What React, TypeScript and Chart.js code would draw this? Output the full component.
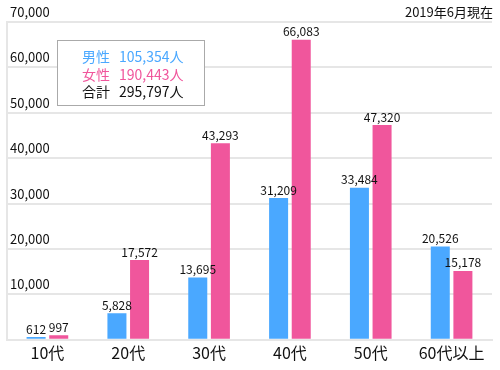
import React, { useEffect, useRef } from "react";
import { Chart, registerables } from "chart.js";

Chart.register(...registerables);

const categories = ["10代", "20代", "30代", "40代", "50代", "60代以上"];
const maleValues = [612, 5828, 13695, 31209, 33484, 20526];
const femaleValues = [997, 17572, 43293, 66083, 47320, 15178];
const yTicks = [0, 10000, 20000, 30000, 40000, 50000, 60000, 70000];
const legendRows = [
  { label: "男性", value: "105,354人", color: "#4aa8ff" },
  { label: "女性", value: "190,443人", color: "#f0569c" },
  { label: "合計", value: "295,797人", color: "#111111" },
];
const dateNote = "2019年6月現在";

const FONT = "'Noto Sans CJK JP', 'Noto Sans', sans-serif";
const BLUE = "#4aa8ff";
const PINK = "#f0569c";
const GRID = "#e6e6e6";

const fmt = (v: number) => v.toLocaleString("en-US");

export default function App() {
  const ref = useRef<HTMLCanvasElement | null>(null);
  useEffect(() => {
    if (!ref.current) return;
    const overlay = {
      id: "overlay",
      afterDatasetsDraw(chart: any) {
        const ctx = chart.ctx;
        ctx.save();
        ctx.font = `12px ${FONT}`;
        ctx.fillStyle = "#111";
        ctx.textAlign = "center";
        ctx.textBaseline = "bottom";
        chart.data.datasets.forEach((ds: any, i: number) => {
          const meta = chart.getDatasetMeta(i);
          meta.data.forEach((el: any, j: number) => {
            ctx.fillText(fmt(ds.data[j]), el.x, el.y - 2);
          });
        });
        ctx.restore();
      },
      afterDraw(chart: any) {
        const ctx = chart.ctx;
        ctx.save();
        // legend box
        ctx.fillStyle = "#fff";
        ctx.fillRect(57.5, 40.5, 147, 65);
        ctx.strokeStyle = "#aaaaaa";
        ctx.lineWidth = 1;
        ctx.strokeRect(57.5, 40.5, 147, 65);
        ctx.font = `14px ${FONT}`;
        ctx.textBaseline = "middle";
        ctx.textAlign = "left";
        legendRows.forEach((r, i) => {
          const y = 57 + i * 17.5;
          ctx.fillStyle = r.color;
          ctx.fillText(r.label, 82, y);
          ctx.fillText(r.value, 119, y);
        });
        // date note
        ctx.font = `13px ${FONT}`;
        ctx.fillStyle = "#111";
        ctx.textAlign = "right";
        ctx.fillText(dateNote, 493, 12);
        ctx.restore();
      },
    };
    const chart = new Chart(ref.current, {
      type: "bar",
      data: {
        labels: categories,
        datasets: [
          { label: "男性", data: maleValues, backgroundColor: BLUE },
          { label: "女性", data: femaleValues, backgroundColor: PINK },
        ],
      },
      options: {
        animation: false,
        responsive: false,
        layout: { padding: { left: 1, right: 8, top: 22, bottom: 3 } },
        datasets: {
          bar: { categoryPercentage: 0.56, barPercentage: 0.84 },
        },
        plugins: { legend: { display: false }, tooltip: { enabled: false } },
        scales: {
          x: {
            grid: {
              offset: true,
              drawTicks: false,
              color: (c: any) => (c.index === categories.length ? GRID : "rgba(0,0,0,0)"),
              lineWidth: 2,
            },
            border: { display: true, color: GRID, width: 2 },
            ticks: { color: "#111", font: { family: FONT, size: 16 }, padding: 4 },
          },
          y: {
            min: yTicks[0],
            max: yTicks[yTicks.length - 1],
            afterBuildTicks: (axis: any) => {
              axis.ticks = yTicks.map((v) => ({ value: v }));
            },
            grid: { color: GRID, lineWidth: 2, drawTicks: false },
            border: { display: true, color: GRID, width: 2 },
            ticks: {
              mirror: true,
              padding: 3,
              labelOffset: -10,
              color: "#111",
              font: { family: FONT, size: 13 },
              callback: (v: any) => (Number(v) === 0 ? "" : fmt(Number(v))),
            },
          },
        },
      },
      plugins: [overlay],
    });
    return () => chart.destroy();
  }, []);
  return (
    <div style={{ position: "absolute", left: 0, top: 0, width: 500, height: 370, background: "#fff" }}>
      <canvas ref={ref} width={500} height={370} />
    </div>
  );
}
